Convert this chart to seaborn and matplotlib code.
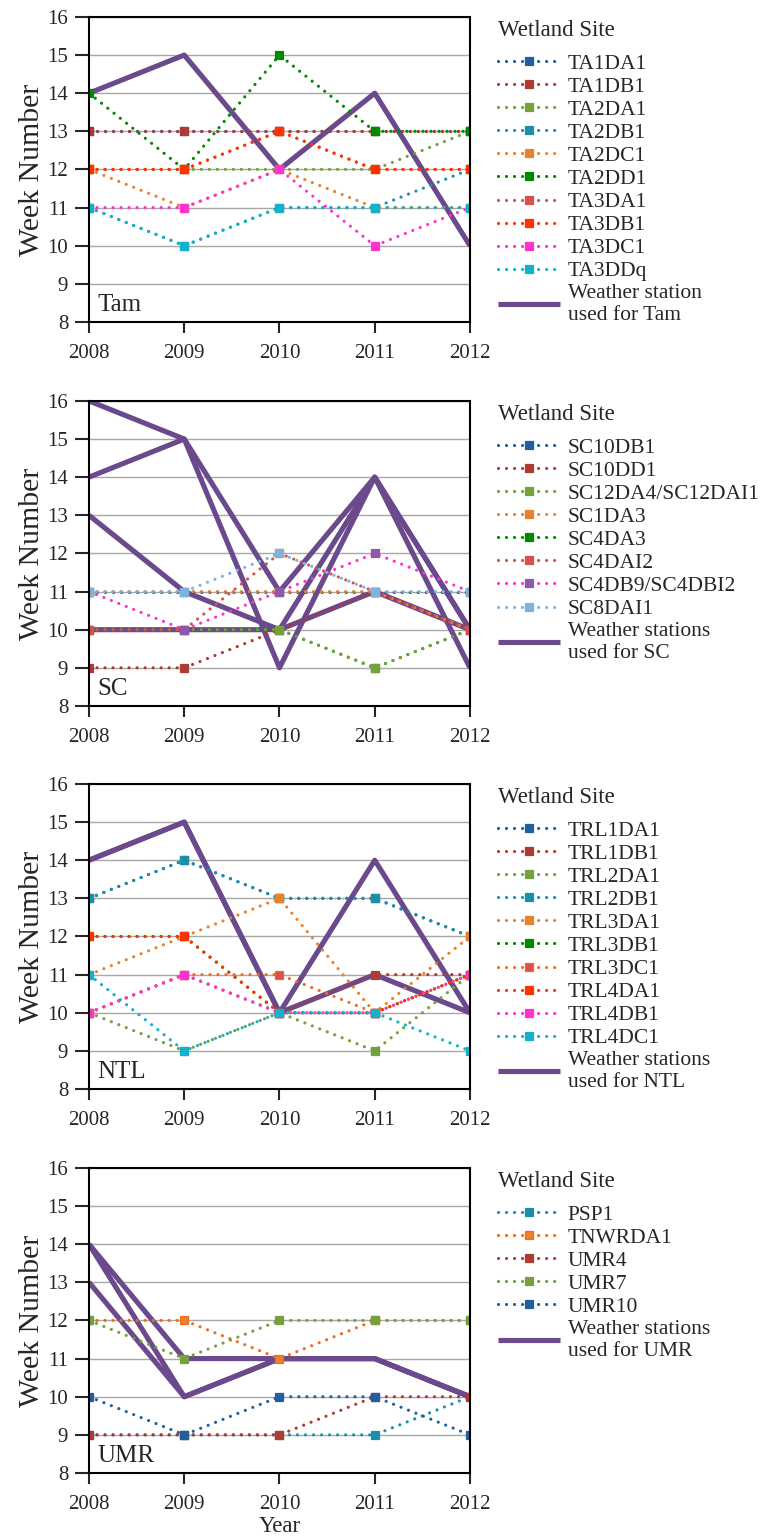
import matplotlib
matplotlib.use("Agg")
import matplotlib.pyplot as plt
import seaborn as sns

# --- data ---
years = [2008, 2009, 2010, 2011, 2012]

tam_sites = ["TA1DA1", "TA1DB1", "TA2DA1", "TA2DB1", "TA2DC1",
             "TA2DD1", "TA3DA1", "TA3DB1", "TA3DC1", "TA3DDq"]
tam_weeks = [
    [13, 13, 13, 13, 13],
    [13, 13, 13, 13, 13],
    [12, 12, 12, 12, 13],
    [11, 10, 11, 11, 12],
    [12, 11, 12, 11, 11],
    [14, 12, 15, 13, 13],
    [12, 12, 13, 12, 12],
    [12, 12, 13, 12, 12],
    [11, 11, 12, 10, 11],
    [11, 10, 11, 11, 11],
]
tam_stations = [[14, 15, 12, 14, 10]]

sc_sites = ["SC10DB1", "SC10DD1", "SC12DA4/SC12DAI1", "SC1DA3",
            "SC4DA3", "SC4DAI2", "SC4DB9/SC4DBI2", "SC8DAI1"]
sc_weeks = [
    [11, 11, 11, 11, 11],
    [9, 9, 10, 11, 10],
    [10, 10, 10, 9, 10],
    [11, 11, 11, 11, 10],
    [10, 10, 10, 9, 10],
    [10, 10, 12, 11, 10],
    [11, 10, 11, 12, 11],
    [11, 11, 12, 11, 11],
]
sc_stations = [
    [16, 15, 11, 14, 10],
    [14, 15, 9, 14, 9],
    [13, 11, 10, 14, 10],
    [10, 10, 10, 11, 10],
]

ntl_sites = ["TRL1DA1", "TRL1DB1", "TRL2DA1", "TRL2DB1", "TRL3DA1",
             "TRL3DB1", "TRL3DC1", "TRL4DA1", "TRL4DB1", "TRL4DC1"]
ntl_weeks = [
    [13, 14, 13, 13, 12],
    [10, 11, 10, 11, 11],
    [10, 9, 10, 9, 11],
    [13, 14, 13, 13, 12],
    [11, 12, 13, 10, 12],
    [12, 12, 10, 10, 11],
    [10, 11, 11, 10, 11],
    [12, 12, 10, 10, 11],
    [10, 11, 10, 10, 11],
    [11, 9, 10, 10, 9],
]
ntl_stations = [
    [14, 15, 10, 14, 10],
    [14, 15, 10, 11, 10],
]

umr_sites = ["PSP1", "TNWRDA1", "UMR4", "UMR7", "UMR10"]
umr_weeks = [
    [9, 9, 9, 9, 10],
    [12, 12, 11, 12, 12],
    [9, 9, 9, 10, 10],
    [12, 11, 12, 12, 12],
    [10, 9, 10, 10, 9],
]
umr_stations = [
    [14, 11, 11, 11, 10],
    [14, 10, 11, 11, 10],
    [13, 10, 11, 11, 10],
]

# --- colours (line, square face, square edge) ---
BLUE = "#1F619F"
BROWN = "#AD3A33"
LGREEN = "#74A03E"
TEAL = "#1990A8"
ORANGE = "#E8822C"
GREEN = "#008A00"
CORAL = "#D9504C"
RED = "#FF3300"
MAGENTA = "#FF33CC"
CYAN = "#12B2CC"
LBLUE = "#7DB4DC"
PURPLE = "#6A4A8C"
DORANGE = "#F26B1D"

tam_cols = [(c, c, c) for c in [BLUE, BROWN, LGREEN, TEAL, ORANGE,
                                 GREEN, CORAL, RED, MAGENTA, CYAN]]
sc_cols = [(BLUE, BLUE, BLUE), (BROWN, BROWN, BROWN), (LGREEN, LGREEN, LGREEN),
           (ORANGE, ORANGE, ORANGE), (GREEN, GREEN, GREEN), (CORAL, CORAL, CORAL),
           (MAGENTA, "#8E5AA8", "#8E5AA8"), (LBLUE, LBLUE, LBLUE)]
ntl_cols = [(BLUE, BLUE, BLUE), (BROWN, BROWN, BROWN), (LGREEN, LGREEN, LGREEN),
            (TEAL, TEAL, TEAL), (ORANGE, ORANGE, ORANGE), (GREEN, GREEN, GREEN),
            (DORANGE, CORAL, DORANGE), (RED, RED, RED), (MAGENTA, MAGENTA, MAGENTA),
            (CYAN, CYAN, CYAN)]
umr_cols = [(TEAL, TEAL, TEAL), (DORANGE, ORANGE, DORANGE), (BROWN, BROWN, BROWN),
            (LGREEN, LGREEN, LGREEN), (BLUE, BLUE, BLUE)]

# series hidden under others get a lower z-order
tam_z = [2] * 10
sc_z = [2, 2, 2, 2, 1.9, 2, 2, 2]
ntl_z = [1.9, 2, 2, 2, 2, 1.9, 2, 2, 2, 2]
umr_z = [2] * 5

sns.set_style("ticks")
plt.rcParams["font.family"] = ["Liberation Serif", "DejaVu Serif"]
plt.rcParams["font.size"] = 15

fig = plt.figure(figsize=(7.6, 15.39), dpi=100)

panels = [
    ("Tam", tam_sites, tam_weeks, tam_cols, tam_z, tam_stations, "Weather station\nused for Tam", 0.7908),
    ("SC", sc_sites, sc_weeks, sc_cols, sc_z, sc_stations, "Weather stations\nused for SC", 0.5413),
    ("NTL", ntl_sites, ntl_weeks, ntl_cols, ntl_z, ntl_stations, "Weather stations\nused for NTL", 0.2924),
    ("UMR", umr_sites, umr_weeks, umr_cols, umr_z, umr_stations, "Weather stations\nused for UMR", 0.0429),
]

dot = (0, (0.01, 2.5))

for i, (name, sites, weeks, cols, zs, stations, st_label, bottom) in enumerate(panels):
    ax = fig.add_axes([0.1171, bottom, 0.5013, 0.1982])

    # weather stations: drawn underneath the dotted site lines
    for k, st in enumerate(stations):
        sns.lineplot(x=years, y=st, ax=ax, color=PURPLE, lw=3.7,
                     estimator=None, zorder=1.5, solid_capstyle="butt",
                     label=st_label if k == 0 else None)

    for site, vals, (lc, fc, ec), z in zip(sites, weeks, cols, zs):
        sns.lineplot(x=years, y=vals, ax=ax, color=lc, lw=2.3,
                     linestyle=dot, dash_capstyle="round",
                     marker="s", markersize=5.6, markerfacecolor=fc,
                     markeredgecolor=ec, markeredgewidth=0.9,
                     estimator=None, zorder=z, label=site)

    ax.set_xlim(2008, 2012)
    ax.set_ylim(8, 16)
    ax.set_xticks(years)
    ax.set_yticks(range(8, 17))
    ax.yaxis.grid(True, color="#A8A8A8", lw=1.0)
    ax.set_axisbelow(True)
    for sp in ax.spines.values():
        sp.set_color("black")
        sp.set_linewidth(1.5)
    ax.tick_params(axis="y", direction="out", length=10, width=1.5, pad=5, labelsize=15)
    ax.tick_params(axis="x", direction="out", length=8, width=1.5, pad=8, labelsize=15)
    ax.set_ylabel("Week Number", fontsize=21.5, labelpad=2)
    ax.set_xlabel("Year" if i == 3 else "", fontsize=16.5, labelpad=1)
    ax.text(0.022, 0.055, name, transform=ax.transAxes, ha="left", va="center",
            fontsize=18)

    # legend: site entries first, weather station last
    handles, labels = ax.get_legend_handles_labels()
    handles = handles[1:] + handles[:1]
    labels = labels[1:] + labels[:1]
    leg = ax.legend(handles, labels, title="Wetland Site", loc="upper left",
                    bbox_to_anchor=(1.073, 0.99), frameon=False, alignment="left",
                    fontsize=15.5, title_fontsize=16.5, handlelength=2.9,
                    handletextpad=0.35, labelspacing=0.14, borderpad=0,
                    borderaxespad=0, numpoints=1)
    leg._legend_box.sep = 9

fig.savefig("out.png", dpi=100)
